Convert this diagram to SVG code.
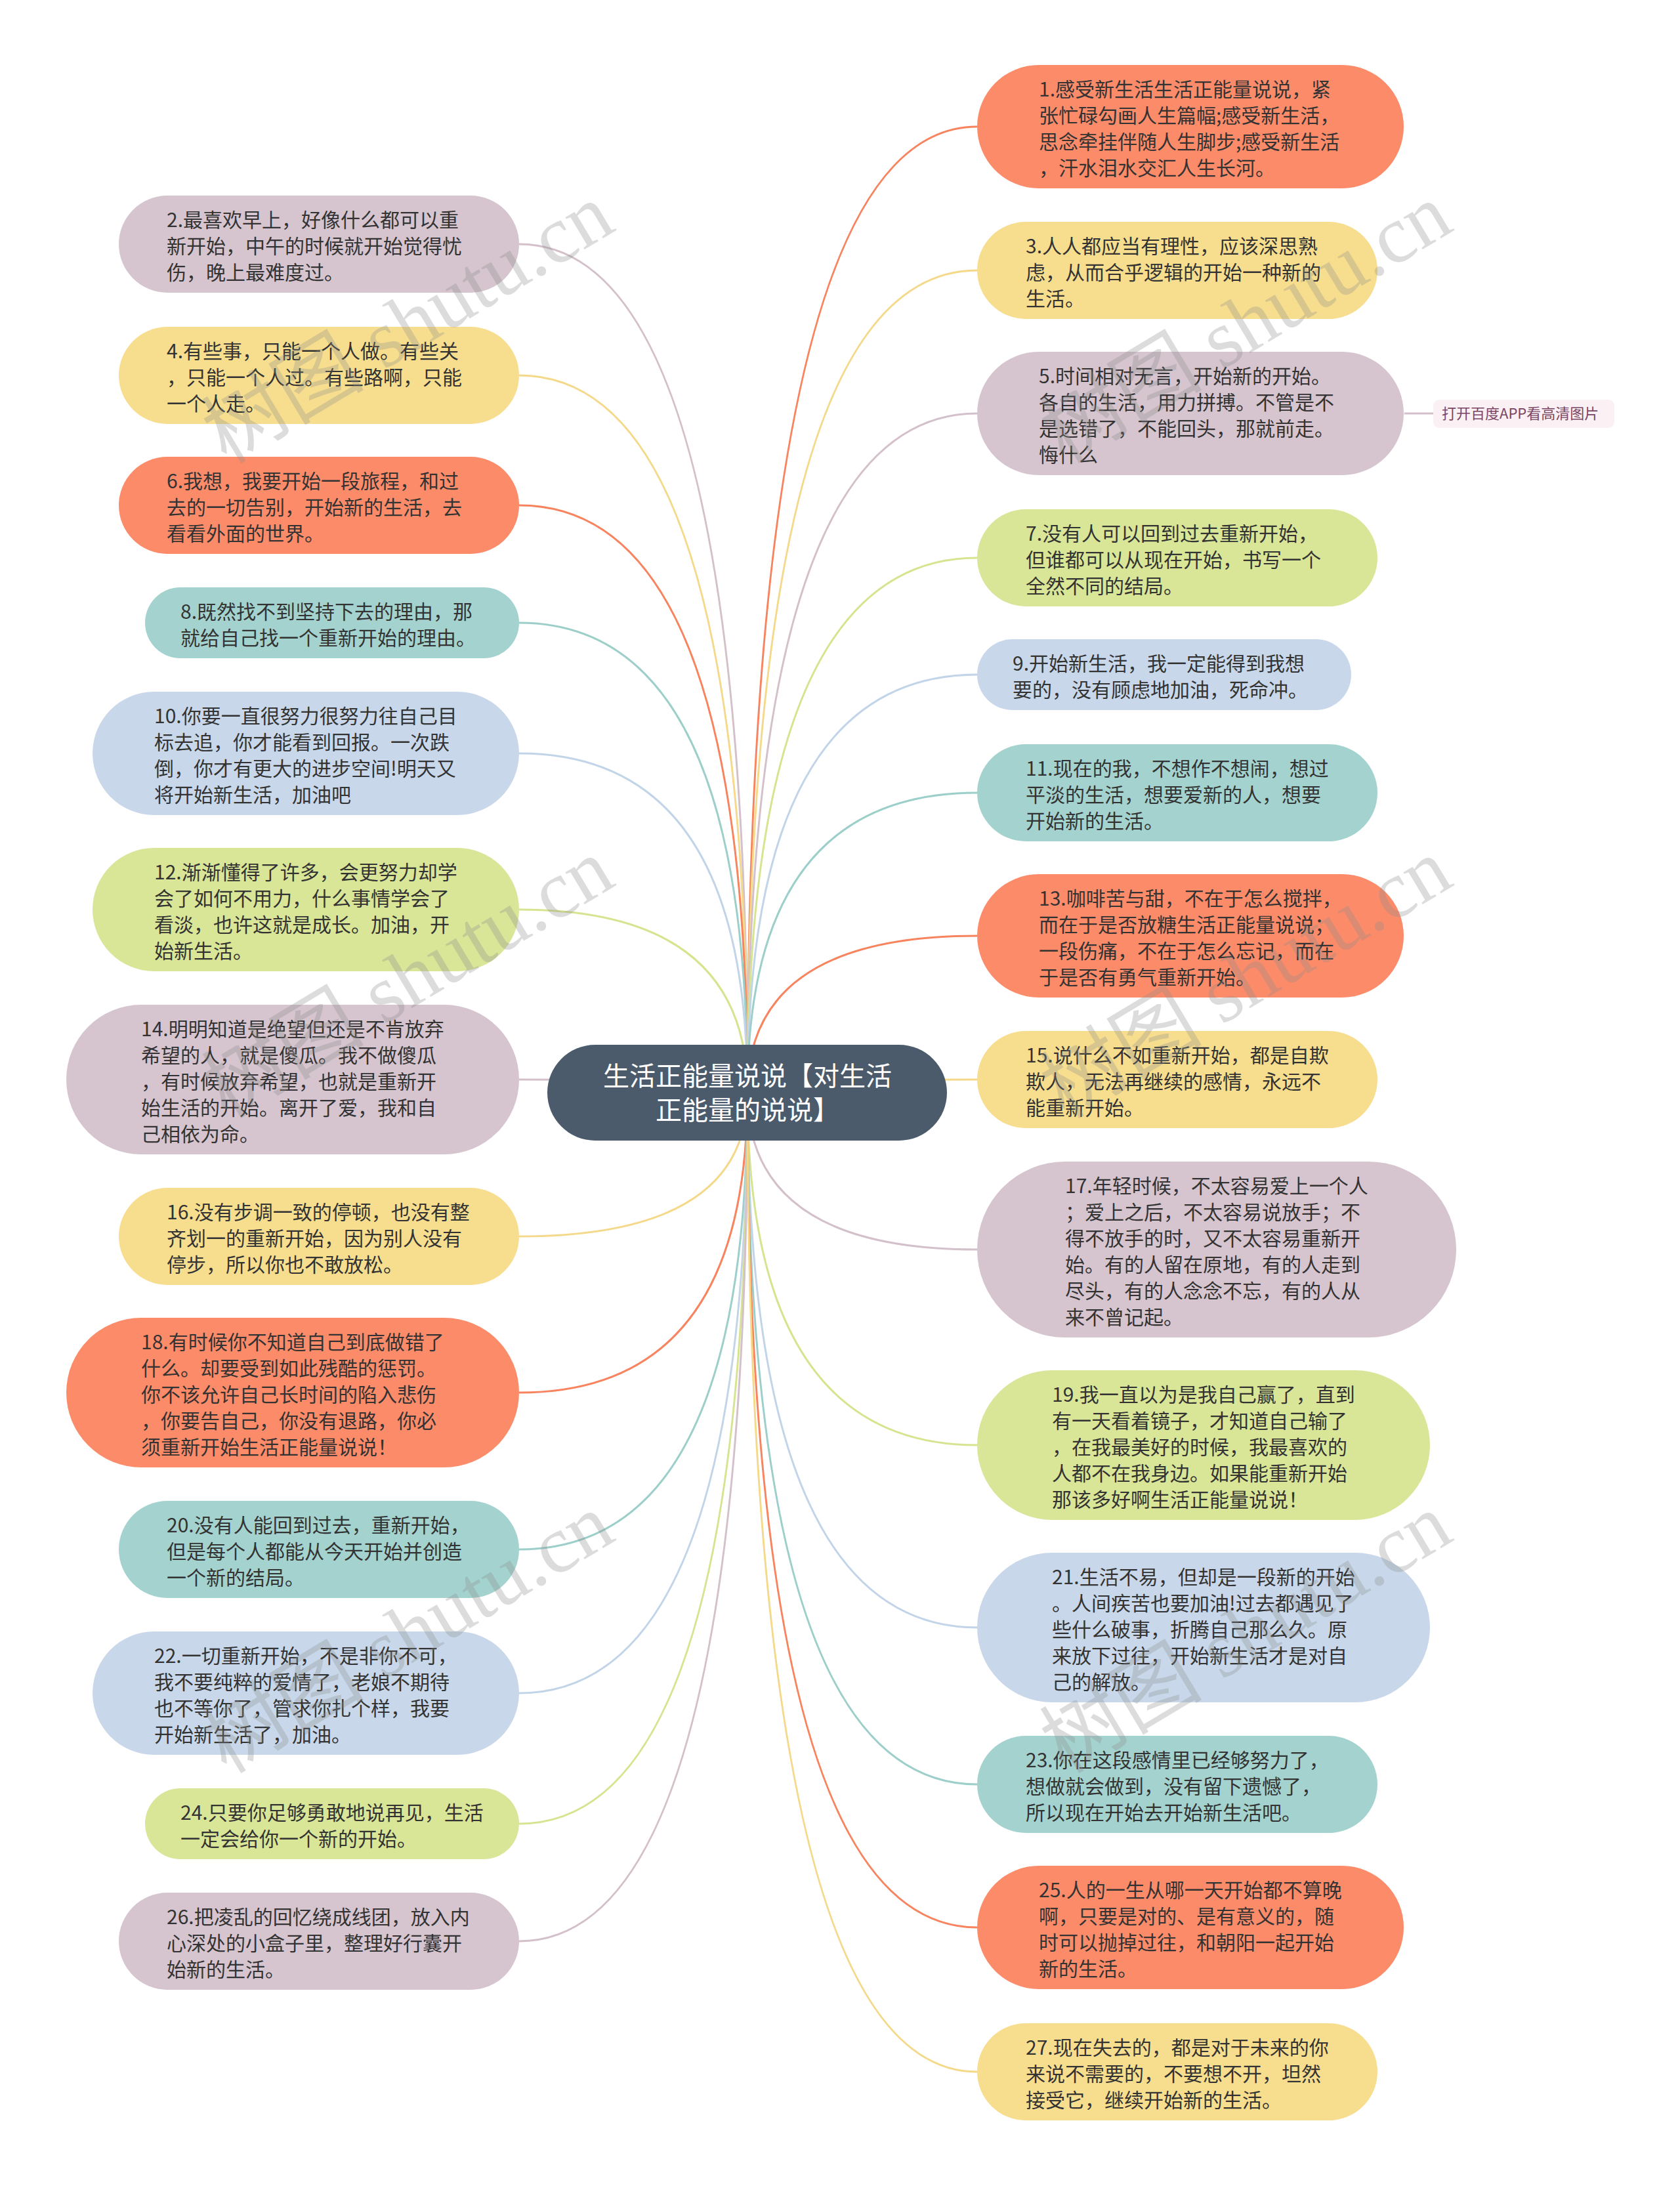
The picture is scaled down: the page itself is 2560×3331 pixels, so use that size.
<svg xmlns="http://www.w3.org/2000/svg" width="2560" height="3331" viewBox="0 0 2560 3331">
<defs>
<style>
.t{font-family:"Noto Sans CJK SC","Noto Sans",sans-serif;font-size:30px;fill:#333333}
.ct{font-family:"Noto Sans CJK SC","Noto Sans",sans-serif;font-size:40px;fill:#ffffff;text-anchor:middle}
.o{fill:#fc8b6a}.y{fill:#f7de8f}.m{fill:#d6c5cf}.g{fill:#a4d3cf}.b{fill:#c8d8ea}.l{fill:#d9e698}
.edges path{fill:none;stroke-width:3}
.so{stroke:#f7845f}.sy{stroke:#f4d98a}.sm{stroke:#d3c0cb}.sg{stroke:#9ccfca}.sb{stroke:#c2d4e8}.sl{stroke:#d6e490}
.wm{font-family:"Liberation Serif","Noto Sans CJK SC",serif;font-size:124px;fill:#8a8a8a;fill-opacity:0.3}
</style>
</defs>
<rect width="2560" height="3331" fill="#ffffff"/>
<g class="edges">
<path class="sm" d="M1139 1665 Q1139 372 791 372"/>
<path class="sy" d="M1139 1665 Q1139 572 791 572"/>
<path class="so" d="M1139 1665 Q1139 770 791 770"/>
<path class="sg" d="M1139 1665 Q1139 949 791 949"/>
<path class="sb" d="M1139 1665 Q1139 1148 791 1148"/>
<path class="sl" d="M1139 1665 Q1139 1386 791 1386"/>
<path class="sm" d="M1139 1665 Q1139 1645 791 1645"/>
<path class="sy" d="M1139 1665 Q1139 1884 791 1884"/>
<path class="so" d="M1139 1665 Q1139 2122 791 2122"/>
<path class="sg" d="M1139 1665 Q1139 2361 791 2361"/>
<path class="sb" d="M1139 1665 Q1139 2580 791 2580"/>
<path class="sl" d="M1139 1665 Q1139 2779 791 2779"/>
<path class="sm" d="M1139 1665 Q1139 2958 791 2958"/>
<path class="so" d="M1139 1665 Q1139 193 1489 193"/>
<path class="sy" d="M1139 1665 Q1139 412 1489 412"/>
<path class="sm" d="M1139 1665 Q1139 630 1489 630"/>
<path class="sl" d="M1139 1665 Q1139 850 1489 850"/>
<path class="sb" d="M1139 1665 Q1139 1028 1489 1028"/>
<path class="sg" d="M1139 1665 Q1139 1208 1489 1208"/>
<path class="so" d="M1139 1665 Q1139 1426 1489 1426"/>
<path class="sy" d="M1139 1665 Q1139 1645 1489 1645"/>
<path class="sm" d="M1139 1665 Q1139 1904 1489 1904"/>
<path class="sl" d="M1139 1665 Q1139 2202 1489 2202"/>
<path class="sb" d="M1139 1665 Q1139 2480 1489 2480"/>
<path class="sg" d="M1139 1665 Q1139 2719 1489 2719"/>
<path class="so" d="M1139 1665 Q1139 2937 1489 2937"/>
<path class="sy" d="M1139 1665 Q1139 3157 1489 3157"/>
<path class="sm" d="M2140 630 L2184 630"/>
</g>
<g id="root">
<rect x="834" y="1592" width="609" height="146" rx="73" fill="#4b5b6b"/>
<text class="ct" x="1139" y="1654">生活正能量说说【对生活</text>
<text class="ct" x="1139" y="1706">正能量的说说】</text>
</g>
<g id="n2"><rect class="m" x="181" y="298" width="610" height="148" rx="74"/>
<text class="t" x="254" y="346">2.最喜欢早上，好像什么都可以重</text><text class="t" x="254" y="386">新开始，中午的时候就开始觉得忧</text><text class="t" x="254" y="426">伤，晚上最难度过。</text></g>
<g id="n4"><rect class="y" x="181" y="498" width="610" height="148" rx="74"/>
<text class="t" x="254" y="546">4.有些事，只能一个人做。有些关</text><text class="t" x="254" y="586">，只能一个人过。有些路啊，只能</text><text class="t" x="254" y="626">一个人走。</text></g>
<g id="n6"><rect class="o" x="181" y="696" width="610" height="148" rx="74"/>
<text class="t" x="254" y="744">6.我想，我要开始一段旅程，和过</text><text class="t" x="254" y="784">去的一切告别，开始新的生活，去</text><text class="t" x="254" y="824">看看外面的世界。</text></g>
<g id="n8"><rect class="g" x="221" y="895" width="570" height="108" rx="54"/>
<text class="t" x="275" y="943">8.既然找不到坚持下去的理由，那</text><text class="t" x="275" y="983">就给自己找一个重新开始的理由。</text></g>
<g id="n10"><rect class="b" x="141" y="1054" width="650" height="188" rx="94"/>
<text class="t" x="235" y="1102">10.你要一直很努力很努力往自己目</text><text class="t" x="235" y="1142">标去追，你才能看到回报。一次跌</text><text class="t" x="235" y="1182">倒，你才有更大的进步空间!明天又</text><text class="t" x="235" y="1222">将开始新生活，加油吧</text></g>
<g id="n12"><rect class="l" x="141" y="1292" width="650" height="188" rx="94"/>
<text class="t" x="235" y="1340">12.渐渐懂得了许多，会更努力却学</text><text class="t" x="235" y="1380">会了如何不用力，什么事情学会了</text><text class="t" x="235" y="1420">看淡，也许这就是成长。加油，开</text><text class="t" x="235" y="1460">始新生活。</text></g>
<g id="n14"><rect class="m" x="101" y="1531" width="690" height="228" rx="114"/>
<text class="t" x="215" y="1579">14.明明知道是绝望但还是不肯放弃</text><text class="t" x="215" y="1619">希望的人，就是傻瓜。我不做傻瓜</text><text class="t" x="215" y="1659">，有时候放弃希望，也就是重新开</text><text class="t" x="215" y="1699">始生活的开始。离开了爱，我和自</text><text class="t" x="215" y="1739">己相依为命。</text></g>
<g id="n16"><rect class="y" x="181" y="1810" width="610" height="148" rx="74"/>
<text class="t" x="254" y="1858">16.没有步调一致的停顿，也没有整</text><text class="t" x="254" y="1898">齐划一的重新开始，因为别人没有</text><text class="t" x="254" y="1938">停步，所以你也不敢放松。</text></g>
<g id="n18"><rect class="o" x="101" y="2008" width="690" height="228" rx="114"/>
<text class="t" x="215" y="2056">18.有时候你不知道自己到底做错了</text><text class="t" x="215" y="2096">什么。却要受到如此残酷的惩罚。</text><text class="t" x="215" y="2136">你不该允许自己长时间的陷入悲伤</text><text class="t" x="215" y="2176">，你要告自己，你没有退路，你必</text><text class="t" x="215" y="2216">须重新开始生活正能量说说！</text></g>
<g id="n20"><rect class="g" x="181" y="2287" width="610" height="148" rx="74"/>
<text class="t" x="254" y="2335">20.没有人能回到过去，重新开始，</text><text class="t" x="254" y="2375">但是每个人都能从今天开始并创造</text><text class="t" x="254" y="2415">一个新的结局。</text></g>
<g id="n22"><rect class="b" x="141" y="2486" width="650" height="188" rx="94"/>
<text class="t" x="235" y="2534">22.一切重新开始，不是非你不可，</text><text class="t" x="235" y="2574">我不要纯粹的爱情了，老娘不期待</text><text class="t" x="235" y="2614">也不等你了，管求你扎个样，我要</text><text class="t" x="235" y="2654">开始新生活了，加油。</text></g>
<g id="n24"><rect class="l" x="221" y="2725" width="570" height="108" rx="54"/>
<text class="t" x="275" y="2773">24.只要你足够勇敢地说再见，生活</text><text class="t" x="275" y="2813">一定会给你一个新的开始。</text></g>
<g id="n26"><rect class="m" x="181" y="2884" width="610" height="148" rx="74"/>
<text class="t" x="254" y="2932">26.把凌乱的回忆绕成线团，放入内</text><text class="t" x="254" y="2972">心深处的小盒子里，整理好行囊开</text><text class="t" x="254" y="3012">始新的生活。</text></g>
<g id="n1"><rect class="o" x="1489" y="99" width="650" height="188" rx="94"/>
<text class="t" x="1583" y="147">1.感受新生活生活正能量说说，紧</text><text class="t" x="1583" y="187">张忙碌勾画人生篇幅;感受新生活，</text><text class="t" x="1583" y="227">思念牵挂伴随人生脚步;感受新生活</text><text class="t" x="1583" y="267">，汗水泪水交汇人生长河。</text></g>
<g id="n3"><rect class="y" x="1489" y="338" width="610" height="148" rx="74"/>
<text class="t" x="1563" y="386">3.人人都应当有理性，应该深思熟</text><text class="t" x="1563" y="426">虑，从而合乎逻辑的开始一种新的</text><text class="t" x="1563" y="466">生活。</text></g>
<g id="n5"><rect class="m" x="1489" y="536" width="650" height="188" rx="94"/>
<text class="t" x="1583" y="584">5.时间相对无言，开始新的开始。</text><text class="t" x="1583" y="624">各自的生活，用力拼搏。不管是不</text><text class="t" x="1583" y="664">是选错了，不能回头，那就前走。</text><text class="t" x="1583" y="704">悔什么</text></g>
<g id="label"><rect x="2184" y="609" width="276" height="43" rx="9" fill="#fbf0f3"/>
<text x="2197" y="638" style="font-family:'Noto Sans CJK SC','Noto Sans',sans-serif;font-size:22px;fill:#7a4565">打开百度APP看高清图片</text></g>
<g id="n7"><rect class="l" x="1489" y="776" width="610" height="148" rx="74"/>
<text class="t" x="1563" y="824">7.没有人可以回到过去重新开始，</text><text class="t" x="1563" y="864">但谁都可以从现在开始，书写一个</text><text class="t" x="1563" y="904">全然不同的结局。</text></g>
<g id="n9"><rect class="b" x="1489" y="974" width="570" height="108" rx="54"/>
<text class="t" x="1543" y="1022">9.开始新生活，我一定能得到我想</text><text class="t" x="1543" y="1062">要的，没有顾虑地加油，死命冲。</text></g>
<g id="n11"><rect class="g" x="1489" y="1134" width="610" height="148" rx="74"/>
<text class="t" x="1563" y="1182">11.现在的我，不想作不想闹，想过</text><text class="t" x="1563" y="1222">平淡的生活，想要爱新的人，想要</text><text class="t" x="1563" y="1262">开始新的生活。</text></g>
<g id="n13"><rect class="o" x="1489" y="1332" width="650" height="188" rx="94"/>
<text class="t" x="1583" y="1380">13.咖啡苦与甜，不在于怎么搅拌，</text><text class="t" x="1583" y="1420">而在于是否放糖生活正能量说说；</text><text class="t" x="1583" y="1460">一段伤痛，不在于怎么忘记，而在</text><text class="t" x="1583" y="1500">于是否有勇气重新开始。</text></g>
<g id="n15"><rect class="y" x="1489" y="1571" width="610" height="148" rx="74"/>
<text class="t" x="1563" y="1619">15.说什么不如重新开始，都是自欺</text><text class="t" x="1563" y="1659">欺人，无法再继续的感情，永远不</text><text class="t" x="1563" y="1699">能重新开始。</text></g>
<g id="n17"><rect class="m" x="1489" y="1770" width="730" height="268" rx="134"/>
<text class="t" x="1623" y="1818">17.年轻时候，不太容易爱上一个人</text><text class="t" x="1623" y="1858">；爱上之后，不太容易说放手；不</text><text class="t" x="1623" y="1898">得不放手的时，又不太容易重新开</text><text class="t" x="1623" y="1938">始。有的人留在原地，有的人走到</text><text class="t" x="1623" y="1978">尽头，有的人念念不忘，有的人从</text><text class="t" x="1623" y="2018">来不曾记起。</text></g>
<g id="n19"><rect class="l" x="1489" y="2088" width="690" height="228" rx="114"/>
<text class="t" x="1603" y="2136">19.我一直以为是我自己赢了，直到</text><text class="t" x="1603" y="2176">有一天看着镜子，才知道自己输了</text><text class="t" x="1603" y="2216">，在我最美好的时候，我最喜欢的</text><text class="t" x="1603" y="2256">人都不在我身边。如果能重新开始</text><text class="t" x="1603" y="2296">那该多好啊生活正能量说说！</text></g>
<g id="n21"><rect class="b" x="1489" y="2366" width="690" height="228" rx="114"/>
<text class="t" x="1603" y="2414">21.生活不易，但却是一段新的开始</text><text class="t" x="1603" y="2454">。人间疾苦也要加油!过去都遇见了</text><text class="t" x="1603" y="2494">些什么破事，折腾自己那么久。原</text><text class="t" x="1603" y="2534">来放下过往，开始新生活才是对自</text><text class="t" x="1603" y="2574">己的解放。</text></g>
<g id="n23"><rect class="g" x="1489" y="2645" width="610" height="148" rx="74"/>
<text class="t" x="1563" y="2693">23.你在这段感情里已经够努力了，</text><text class="t" x="1563" y="2733">想做就会做到，没有留下遗憾了，</text><text class="t" x="1563" y="2773">所以现在开始去开始新生活吧。</text></g>
<g id="n25"><rect class="o" x="1489" y="2843" width="650" height="188" rx="94"/>
<text class="t" x="1583" y="2891">25.人的一生从哪一天开始都不算晚</text><text class="t" x="1583" y="2931">啊，只要是对的、是有意义的，随</text><text class="t" x="1583" y="2971">时可以抛掉过往，和朝阳一起开始</text><text class="t" x="1583" y="3011">新的生活。</text></g>
<g id="n27"><rect class="y" x="1489" y="3083" width="610" height="148" rx="74"/>
<text class="t" x="1563" y="3131">27.现在失去的，都是对于未来的你</text><text class="t" x="1563" y="3171">来说不需要的，不要想不开，坦然</text><text class="t" x="1563" y="3211">接受它，继续开始新的生活。</text></g>
<g id="watermarks">
<text class="wm" transform="translate(345 708) rotate(-31)">树图 shutu.cn</text>
<text class="wm" transform="translate(345 1706) rotate(-31)">树图 shutu.cn</text>
<text class="wm" transform="translate(345 2704) rotate(-31)">树图 shutu.cn</text>
<text class="wm" transform="translate(1622 708) rotate(-31)">树图 shutu.cn</text>
<text class="wm" transform="translate(1622 1706) rotate(-31)">树图 shutu.cn</text>
<text class="wm" transform="translate(1622 2704) rotate(-31)">树图 shutu.cn</text>
</g>
</svg>
